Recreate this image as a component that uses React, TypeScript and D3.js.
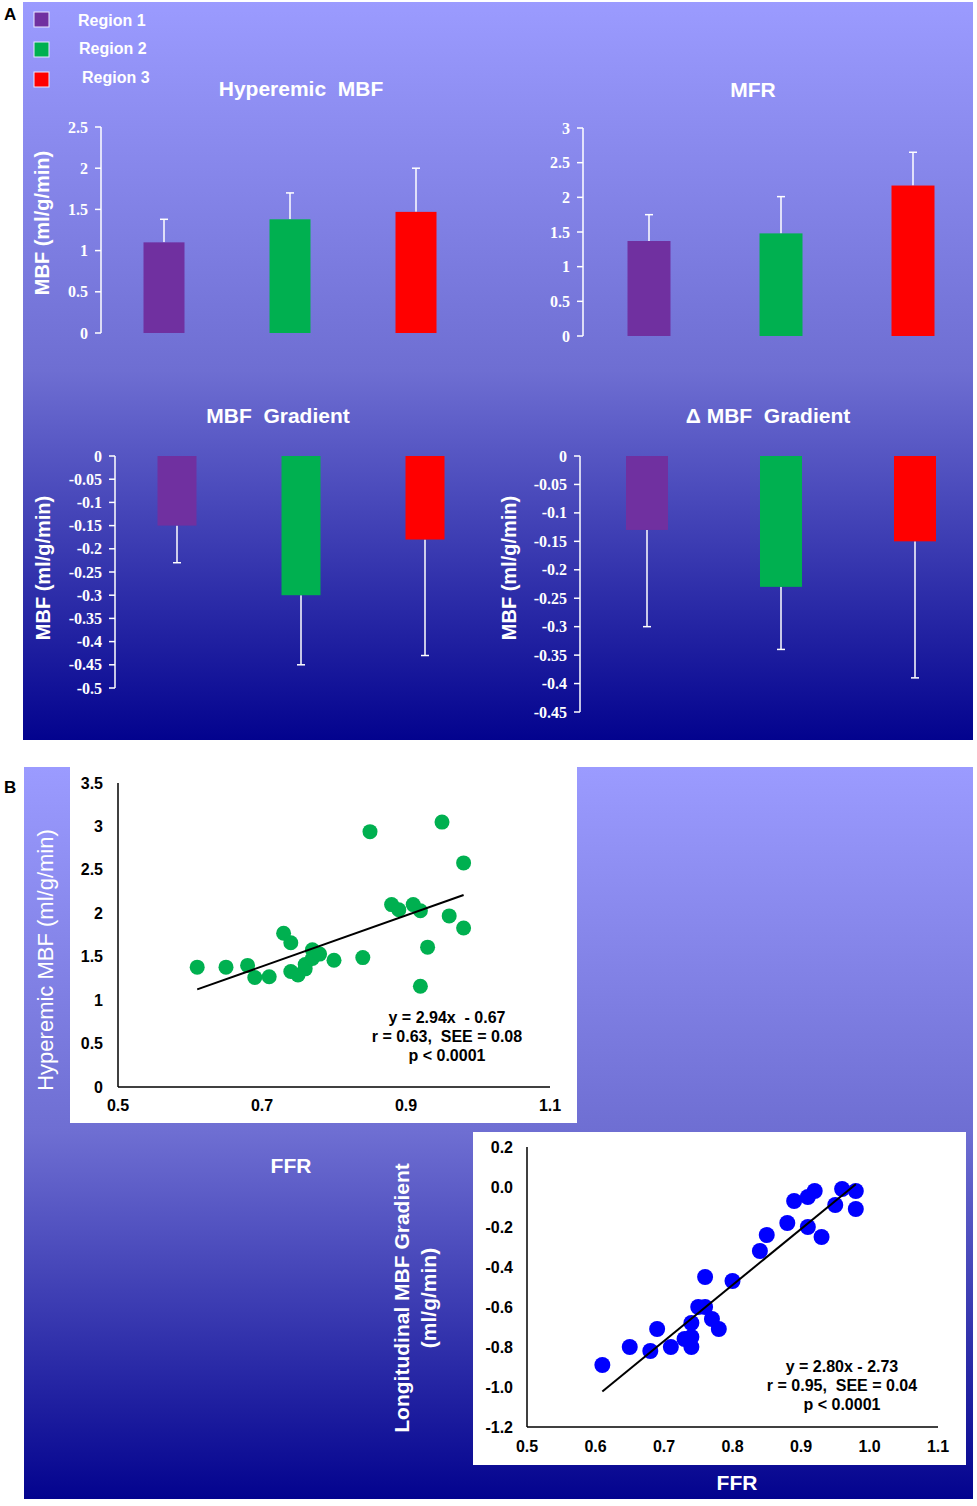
import * as d3 from 'd3';
import React from 'react';

// ---- data ----
const regions = ['Region 1', 'Region 2', 'Region 3'];
const regionColors = ['#7030a0', '#00b050', '#ff0000'];

const hyperemicMbf = [1.1, 1.38, 1.47];
const hyperemicMbfErr = [1.38, 1.7, 2.0];
const mfr = [1.37, 1.48, 2.17];
const mfrErr = [1.75, 2.01, 2.65];
const mbfGradient = [-0.15, -0.3, -0.18];
const mbfGradientErr = [-0.23, -0.45, -0.43];
const deltaGradient = [-0.13, -0.23, -0.15];
const deltaGradientErr = [-0.3, -0.34, -0.39];

const ffrA = [0.61, 0.65, 0.68, 0.69, 0.71, 0.73, 0.74, 0.74, 0.75, 0.76, 0.76, 0.77, 0.77, 0.78, 0.8, 0.84, 0.85, 0.88, 0.89, 0.91, 0.92, 0.92, 0.93, 0.95, 0.96, 0.98, 0.98];
const hyperemicMbfPts = [1.38, 1.38, 1.4, 1.26, 1.27, 1.77, 1.66, 1.33, 1.29, 1.36, 1.41, 1.58, 1.48, 1.53, 1.46, 1.49, 2.94, 2.1, 2.04, 2.1, 2.03, 1.16, 1.61, 3.05, 1.97, 2.58, 1.83];
const fitA = [2.94, -0.67];

const ffrB = [0.61, 0.65, 0.68, 0.69, 0.71, 0.73, 0.74, 0.74, 0.74, 0.75, 0.76, 0.76, 0.77, 0.78, 0.8, 0.84, 0.85, 0.88, 0.89, 0.91, 0.92, 0.91, 0.93, 0.95, 0.96, 0.98, 0.98];
const longGradientPts = [-0.89, -0.8, -0.82, -0.71, -0.8, -0.76, -0.75, -0.8, -0.68, -0.6, -0.6, -0.45, -0.66, -0.71, -0.47, -0.32, -0.24, -0.18, -0.07, -0.05, -0.02, -0.2, -0.25, -0.09, -0.01, -0.02, -0.11];
const fitB = [2.8, -2.73];

const sans = "'Liberation Sans', Arial, sans-serif";
const serif = "'Liberation Serif', 'Times New Roman', serif";

type BarProps = {
  title: string;
  titleX: number;
  values: number[];
  errs: number[];
  domain: [number, number];
  step: number;
  yRange: [number, number];
  xRange: [number, number];
  barWidth: number;
  yLabel?: { x: number; y: number };
  titleY: number;
};

const BarPanel = ({ title, titleX, titleY, values, errs, domain, step, yRange, xRange, barWidth, yLabel }: BarProps) => {
  const y = d3.scaleLinear().domain(domain).range(yRange);
  const x = d3.scalePoint<string>().domain(regions).range(xRange).padding(0.5);
  const n = Math.round((domain[1] - domain[0]) / step);
  const ticks = d3.range(0, n + 1).map(i => domain[0] + i * step);
  const ax = xRange[0];
  return (
    <g>
      <text x={titleX} y={titleY} textAnchor="middle" dominantBaseline="central" fill="#fff"
        fontFamily={sans} fontWeight="bold" fontSize={21} style={{ whiteSpace: 'pre' }}>{title}</text>
      <line x1={ax} x2={ax} y1={y(domain[0])} y2={y(domain[1])} stroke="#fff" strokeWidth={1.5} />
      {ticks.map(t => (
        <g key={t}>
          <line x1={ax - 6} x2={ax} y1={y(t)} y2={y(t)} stroke="#fff" strokeWidth={1.5} />
          <text x={ax - 13} y={y(t)} textAnchor="end" dominantBaseline="central" fill="#fff"
            fontFamily={serif} fontWeight="bold" fontSize={16}>{String(+t.toFixed(2))}</text>
        </g>
      ))}
      {values.map((v, i) => {
        const cx = x(regions[i]) ?? 0;
        const y0 = y(0), y1 = y(v), ye = y(errs[i]);
        return (
          <g key={i}>
            <line x1={cx} x2={cx} y1={y1} y2={ye} stroke="#fff" strokeWidth={1.5} />
            <line x1={cx - 4} x2={cx + 4} y1={ye} y2={ye} stroke="#fff" strokeWidth={1.5} />
            <rect x={cx - barWidth / 2} y={Math.min(y0, y1)} width={barWidth} height={Math.abs(y1 - y0)} fill={regionColors[i]} />
          </g>
        );
      })}
      {yLabel && (
        <text transform={`translate(${yLabel.x},${yLabel.y}) rotate(-90)`} textAnchor="middle" dominantBaseline="central"
          fill="#fff" fontFamily={sans} fontWeight="bold" fontSize={20}>MBF (ml/g/min)</text>
      )}
    </g>
  );
};

type ScatterProps = {
  xs: number[];
  ys: number[];
  fit: number[];
  color: string;
  r: number;
  xRange: [number, number];
  yRange: [number, number];
  yDomain: [number, number];
  xTicks: number[];
  yTicks: number[];
  fmt: (v: number) => string;
  labelRight: number;
  xLabelY: number;
  eq: string[];
  eqX: number;
  eqY: number;
};

const Scatter = ({ xs, ys, fit, color, r, xRange, yRange, yDomain, xTicks, yTicks, fmt, labelRight, xLabelY, eq, eqX, eqY }: ScatterProps) => {
  const x = d3.scaleLinear().domain([0.5, 1.1]).range(xRange);
  const y = d3.scaleLinear().domain(yDomain).range(yRange);
  const ext = d3.extent(xs) as [number, number];
  const line = d3.line<number>().x(d => x(d)).y(d => y(fit[0] * d + fit[1]));
  return (
    <g>
      <line x1={xRange[0]} x2={xRange[0]} y1={yRange[0]} y2={yRange[1]} stroke="#000" strokeWidth={1.5} />
      <line x1={xRange[0]} x2={xRange[1]} y1={yRange[0]} y2={yRange[0]} stroke="#000" strokeWidth={1.5} />
      {yTicks.map(t => (
        <text key={t} x={labelRight} y={y(t)} textAnchor="end" dominantBaseline="central"
          fontFamily={sans} fontWeight="bold" fontSize={16} fill="#000">{fmt(t)}</text>
      ))}
      {xTicks.map(t => (
        <text key={t} x={x(t)} y={xLabelY} textAnchor="middle" dominantBaseline="central"
          fontFamily={sans} fontWeight="bold" fontSize={16} fill="#000">{t.toFixed(1)}</text>
      ))}
      {xs.map((v, i) => (
        <circle key={i} cx={x(v)} cy={y(ys[i])} r={r} fill={color} />
      ))}
      <path d={line(ext) ?? ''} stroke="#000" strokeWidth={2} fill="none" />
      {eq.map((s, i) => (
        <text key={i} x={eqX} y={eqY + i * 19} textAnchor="middle" dominantBaseline="central"
          fontFamily={sans} fontWeight="bold" fontSize={16} fill="#000" style={{ whiteSpace: 'pre' }}>{s}</text>
      ))}
    </g>
  );
};

export default function App() {
  return (
    <svg width={977} height={1506} style={{ position: 'absolute', left: 0, top: 0, background: '#fff' }}>
      <defs>
        <linearGradient id="bg" x1="0" y1="0" x2="0" y2="1">
          <stop offset="0" stopColor="#9b9bff" />
          <stop offset="0.5" stopColor="#6e6ed2" />
          <stop offset="1" stopColor="#03038e" />
        </linearGradient>
      </defs>

      {/* Panel A */}
      <rect x={23} y={2} width={950} height={738} fill="url(#bg)" />
      <text x={4} y={14} dominantBaseline="central" fontFamily={sans} fontWeight="bold" fontSize={17} fill="#000">A</text>
      {regions.map((name, i) => (
        <g key={name}>
          <rect x={34} y={12 + i * 30} width={15} height={15} fill={regionColors[i]} stroke="#e8e8ff" strokeWidth={1} />
          <text x={78 + [0, 1, 4][i]} y={20 + i * 28.5} dominantBaseline="central" fill="#fff"
            fontFamily={sans} fontWeight="bold" fontSize={16}>{name}</text>
        </g>
      ))}
      <BarPanel title="Hyperemic  MBF" titleX={301} titleY={88} values={hyperemicMbf} errs={hyperemicMbfErr}
        domain={[0, 2.5]} step={0.5} yRange={[333, 127]} xRange={[101, 479]} barWidth={41}
        yLabel={{ x: 42, y: 223 }} />
      <BarPanel title="MFR" titleX={753} titleY={89} values={mfr} errs={mfrErr}
        domain={[0, 3]} step={0.5} yRange={[336, 128]} xRange={[583, 979]} barWidth={43} />
      <BarPanel title="MBF  Gradient" titleX={278} titleY={415} values={mbfGradient} errs={mbfGradientErr}
        domain={[-0.5, 0]} step={0.05} yRange={[688, 456]} xRange={[115, 487]} barWidth={39}
        yLabel={{ x: 43, y: 568 }} />
      <BarPanel title="Δ MBF  Gradient" titleX={768} titleY={415} values={deltaGradient} errs={deltaGradientErr}
        domain={[-0.45, 0]} step={0.05} yRange={[712, 456]} xRange={[580, 982]} barWidth={42}
        yLabel={{ x: 509, y: 568 }} />

      {/* Panel B */}
      <rect x={24} y={767} width={949} height={732} fill="url(#bg)" />
      <text x={4} y={787} dominantBaseline="central" fontFamily={sans} fontWeight="bold" fontSize={17} fill="#000">B</text>

      <rect x={70} y={767} width={507} height={356} fill="#fff" />
      <Scatter xs={ffrA} ys={hyperemicMbfPts} fit={fitA} color="#00b050" r={7.5}
        xRange={[118, 550]} yRange={[1087, 783]} yDomain={[0, 3.5]}
        xTicks={[0.5, 0.7, 0.9, 1.1]} yTicks={d3.range(0, 8).map(i => i * 0.5)}
        fmt={v => String(v)} labelRight={103} xLabelY={1105}
        eq={['y = 2.94x  - 0.67', 'r = 0.63,  SEE = 0.08', 'p < 0.0001']} eqX={447} eqY={1017} />
      <text transform="translate(45,960) rotate(-90)" textAnchor="middle" dominantBaseline="central"
        fill="#fff" fontFamily={sans} fontSize={22}>Hyperemic MBF (ml/g/min)</text>
      <text x={291} y={1165} textAnchor="middle" dominantBaseline="central" fill="#fff"
        fontFamily={sans} fontWeight="bold" fontSize={21}>FFR</text>

      <rect x={473} y={1132} width={493} height={333} fill="#fff" />
      <Scatter xs={ffrB} ys={longGradientPts} fit={fitB} color="#0000ff" r={8}
        xRange={[527, 938]} yRange={[1427, 1147]} yDomain={[-1.2, 0.2]}
        xTicks={d3.range(0, 7).map(i => 0.5 + i * 0.1)} yTicks={d3.range(0, 8).map(i => -1.2 + i * 0.2)}
        fmt={v => (Math.abs(v) < 1e-9 ? 0 : v).toFixed(1)} labelRight={513} xLabelY={1446}
        eq={['y = 2.80x - 2.73', 'r = 0.95,  SEE = 0.04', 'p < 0.0001']} eqX={842} eqY={1366} />
      <text transform="translate(401,1298) rotate(-90)" textAnchor="middle" dominantBaseline="central"
        fill="#fff" fontFamily={sans} fontWeight="bold" fontSize={21}>Longitudinal MBF Gradient</text>
      <text transform="translate(428,1298) rotate(-90)" textAnchor="middle" dominantBaseline="central"
        fill="#fff" fontFamily={sans} fontWeight="bold" fontSize={21}>(ml/g/min)</text>
      <text x={737} y={1482} textAnchor="middle" dominantBaseline="central" fill="#fff"
        fontFamily={sans} fontWeight="bold" fontSize={21}>FFR</text>
    </svg>
  );
}
